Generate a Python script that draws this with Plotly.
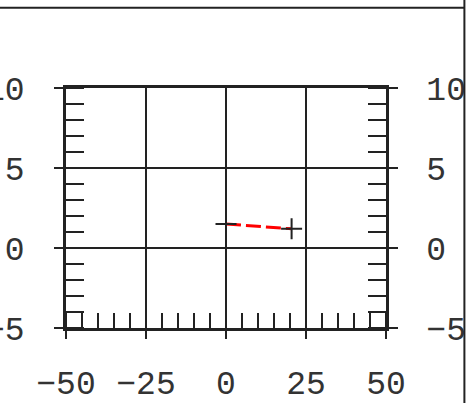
import plotly.graph_objects as go

# data
line_x = [0, 20.5]
line_y = [1.5, 1.2]
x_ticks = [-50, -25, 0, 25, 50]
y_ticks = [-5, 0, 5, 10]

INK = "#222222"
FONT = dict(family="Liberation Mono", size=33, color="#333333")

fig = go.Figure()
fig.add_trace(go.Scatter(
    x=line_x, y=line_y, mode="lines+markers",
    line=dict(color="red", width=3, dash="15px,5px"),
    marker=dict(symbol="cross-thin", size=15, color=INK,
                line=dict(color=INK, width=2)),
    showlegend=False,
))
# invisible trace to activate right axis
fig.add_trace(go.Scatter(x=[None], y=[None], yaxis="y2", showlegend=False))

def yaxis_common(standoff):
    return dict(
        range=[-5, 10], tickvals=y_ticks, ticks="outside", ticklen=9,
        tickwidth=2, tickcolor=INK, showline=True, linewidth=2.5,
        linecolor=INK, zeroline=False, tickfont=FONT, automargin=False,
        ticklabelstandoff=standoff,
        minor=dict(ticks="inside", ticklen=18, tickwidth=2, tickcolor=INK,
                   dtick=1, showgrid=False),
    )

fig.update_layout(
    width=467, height=403,
    margin=dict(l=66, r=81, t=88, b=75),
    paper_bgcolor="white", plot_bgcolor="white",
    xaxis=dict(
        range=[-50, 50], tickvals=x_ticks, ticks="outside", ticklen=8,
        tickwidth=2, tickcolor=INK, showline=True, linewidth=2.5,
        linecolor=INK, mirror=True, showgrid=True, gridcolor=INK,
        gridwidth=1.5, zeroline=False, tickfont=FONT, automargin=False,
        ticklabelstandoff=16,
        minor=dict(ticks="inside", ticklen=15, tickwidth=2, tickcolor=INK,
                   dtick=5, showgrid=False),
    ),
    yaxis=dict(showgrid=True, gridcolor=INK, gridwidth=1.5,
               **yaxis_common(23)),
    yaxis2=dict(overlaying="y", side="right", matches="y", showgrid=False,
                **yaxis_common(22)),
    shapes=[
        dict(type="line", xref="paper", yref="paper", x0=-0.5, x1=1.245,
             y0=1.334, y1=1.334, line=dict(color=INK, width=2)),
        dict(type="line", xref="paper", yref="paper", x0=1.245, x1=1.245,
             y0=-0.5, y1=1.5, line=dict(color=INK, width=2)),
    ],
)

fig.write_html("out.html", config={"displayModeBar": False},
               post_script="document.body.style.margin='0';")
